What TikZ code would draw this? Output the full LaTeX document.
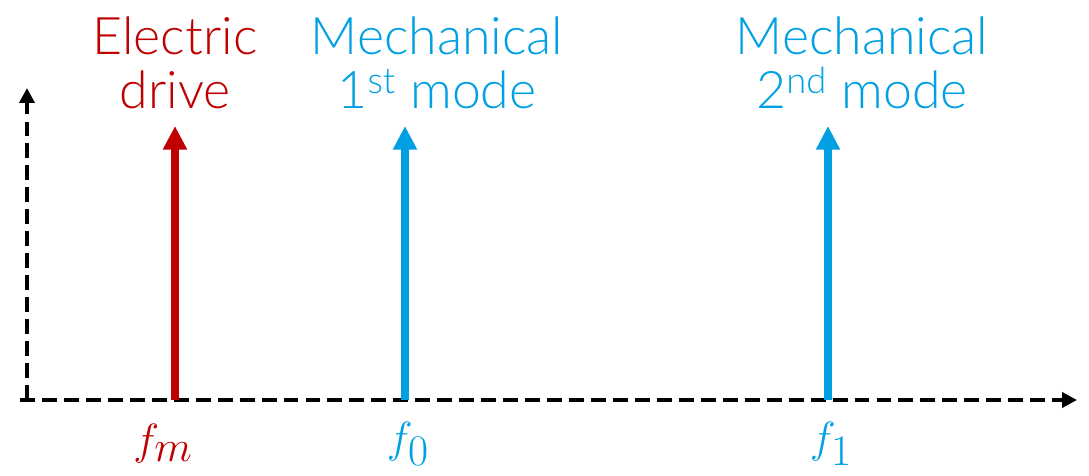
\documentclass[tikz,border=0pt]{standalone}
\usepackage{fontspec}
\setmainfont{Lato}[UprightFont=* Light]
\usetikzlibrary{arrows.meta}
\definecolor{drivered}{RGB}{192,0,0}
\definecolor{modeblue}{RGB}{0,160,226}

\begin{document}
\begin{tikzpicture}[
    x=0.02cm, y=-0.02cm,
    axis/.style={line width=2.3pt, dash pattern=on 8.5pt off 4pt, -{Triangle[length=8.5pt,width=8.5pt]}},
    peak/.style={line width=4pt, -{Triangle[length=13.5pt,width=13pt]}, draw=#1},
    caption/.style={text=#1, font=\fontsize{29.5}{31}\selectfont, align=center},
    freq/.style={text=#1, font=\fontsize{41}{46}\selectfont}
]
\useasboundingbox (0,0) rectangle (1089,476);

% Axes
\coordinate (origin) at (27,400);
\coordinate (xstart) at (20,400);
\coordinate (xend) at (1077,400);
\coordinate (yend) at (27,88);
\draw[axis] (xstart) -- (xend);
\draw[axis] (origin) -- (yend);

% Spectral lines
\coordinate (fmbase) at (175,400);
\coordinate (fmtop) at (175,126);
\coordinate (fzbase) at (405,400);
\coordinate (fztop) at (405,126);
\coordinate (fobase) at (828,400);
\coordinate (fotop) at (828,126);
\draw[peak=drivered] (fmbase) -- (fmtop);
\draw[peak=modeblue] (fzbase) -- (fztop);
\draw[peak=modeblue] (fobase) -- (fotop);

% Captions
\node[caption=drivered] (drive) at (175,63) {Electric\\drive};
\node[caption=modeblue] (modeA) at (437,63) {Mechanical\\1\textsuperscript{st} mode};
\node[caption=modeblue] (modeB) at (862,63) {Mechanical\\2\textsuperscript{nd} mode};

% Frequency labels
\node[freq=drivered] (fm) at (163,444) {$f_m$};
\node[freq=modeblue] (fz) at (408,444) {$f_0$};
\node[freq=modeblue] (fo) at (831,444) {$f_1$};

\end{tikzpicture}
\end{document}
